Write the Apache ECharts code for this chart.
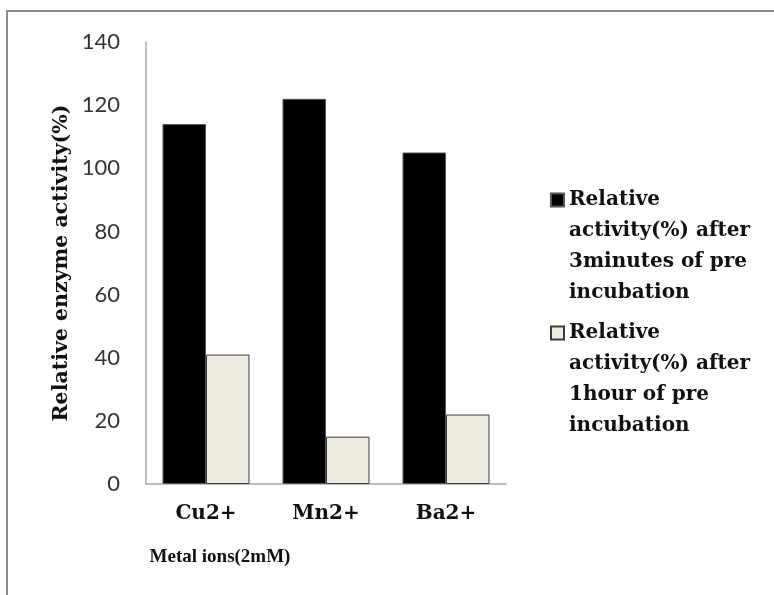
<!DOCTYPE html>
<html>
<head>
<meta charset="utf-8">
<script src="https://cdn.jsdelivr.net/npm/echarts@6/dist/echarts.min.js"></script>
<style>
  html, body { margin: 0; padding: 0; background: #ffffff; }
  #chart { width: 774px; height: 595px; }
</style>
</head>
<body>
<div id="chart"></div>
<script>
// ---- data ----
const categories = ['Cu2+', 'Mn2+', 'Ba2+'];
const seriesNames = [
  'Relative activity(%) after 3minutes of pre incubation',
  'Relative activity(%) after 1hour of pre incubation'
];
const legendLabels = [
  'Relative\nactivity(%) after\n3minutes of pre\nincubation',
  'Relative\nactivity(%) after\n1hour of pre\nincubation'
];
const after3min = [114, 122, 105];
const after1hour = [41, 15, 22];
const yAxisTitle = 'Relative enzyme activity(%)';
const xAxisTitle = 'Metal ions(2mM)';

// ---- chart ----
const chart = echarts.init(document.getElementById('chart'), null, { renderer: 'canvas' });
const serifBold = { fontFamily: 'DejaVu Serif', fontWeight: 'bold', fontSize: 20, color: '#111' };

function legendFor(idx, top) {
  return {
    show: true,
    data: [seriesNames[idx]],
    left: 550,
    top: top,
    padding: 0,
    orient: 'vertical',
    icon: 'rect',
    itemWidth: 13,
    itemHeight: 13,
    selectedMode: false,
    // leading blank lines keep the first text line level with the icon
    formatter: function (name) { return '\n\n\n' + legendLabels[seriesNames.indexOf(name)]; },
    textStyle: Object.assign({}, serifBold, { lineHeight: 31 })
  };
}

const option = {
  backgroundColor: '#ffffff',
  animation: false,
  graphic: [{
    type: 'rect',
    shape: { x: 7, y: 11, width: 900, height: 800 },
    style: { fill: 'none', stroke: '#8c8c8c', lineWidth: 2 },
    silent: true
  }],
  legend: [legendFor(0, 91.5), legendFor(1, 224.5)],
  grid: { left: 146, right: 268, top: 42, bottom: 111, containLabel: false },
  xAxis: {
    type: 'category',
    data: categories,
    axisLine: { show: true, lineStyle: { color: '#a6a6a6', width: 1.5 } },
    axisTick: { show: false },
    axisLabel: Object.assign({}, serifBold, { margin: 20 }),
    name: xAxisTitle,
    nameLocation: 'middle',
    nameGap: 64,
    nameTextStyle: { fontFamily: 'Liberation Serif', fontWeight: 'bold', fontSize: 19, color: '#111', padding: [0, 212, 0, 0] }
  },
  yAxis: {
    type: 'value',
    min: 0,
    max: 140,
    interval: 20,
    axisLine: { show: true, lineStyle: { color: '#a6a6a6', width: 1.5 } },
    axisTick: { show: false },
    splitLine: { show: false },
    axisLabel: { fontFamily: 'Lato', fontSize: 22, color: '#333', margin: 26 },
    name: yAxisTitle,
    nameLocation: 'middle',
    nameGap: 74,
    nameTextStyle: Object.assign({}, serifBold, { fontSize: 20.5 })
  },
  series: [
    {
      name: seriesNames[0],
      type: 'bar',
      data: after3min,
      barGap: '0%',
      barCategoryGap: '27.5%',
      itemStyle: { color: '#000000', borderColor: '#555555', borderWidth: 1 }
    },
    {
      name: seriesNames[1],
      type: 'bar',
      data: after1hour,
      barGap: '0%',
      barCategoryGap: '27.5%',
      itemStyle: { color: '#EEECE1', borderColor: '#3a3a3a', borderWidth: 1 }
    }
  ]
};
chart.setOption(option);
</script>
</body>
</html>
